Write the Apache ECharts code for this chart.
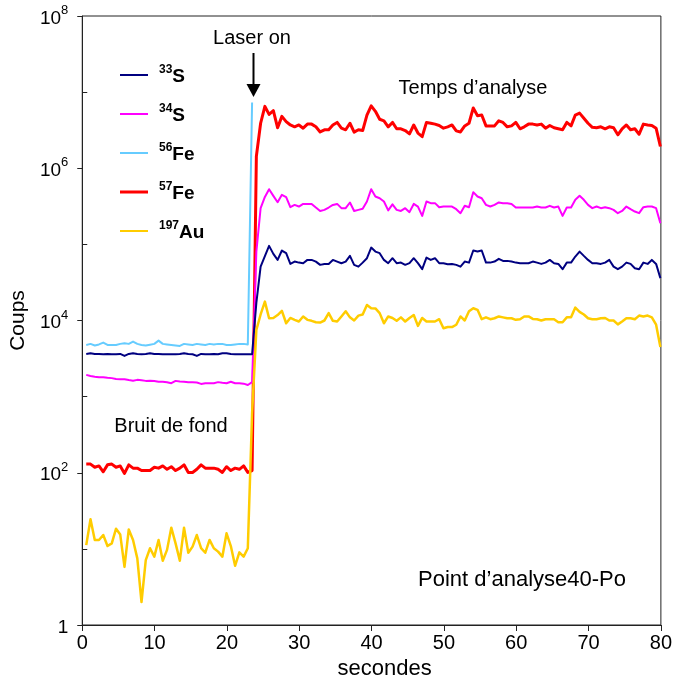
<!DOCTYPE html>
<html>
<head>
<meta charset="utf-8">
<script src="https://cdn.jsdelivr.net/npm/echarts@6/dist/echarts.min.js"></script>
<style>html,body{margin:0;padding:0;background:#fff}#c{width:675px;height:686px}</style>
</head>
<body>
<div id="c"></div>
<script>
// sample times (s)
const times = [0.55,1.14,1.73,2.31,2.90,3.49,4.08,4.67,5.25,5.84,6.43,7.02,7.61,8.19,8.78,9.37,9.96,10.55,11.13,11.72,
12.31,12.90,13.49,14.07,14.66,15.25,15.84,16.43,17.01,17.60,18.19,18.78,19.37,19.95,20.54,21.13,21.72,22.31,22.89,23.48,
24.07,24.66,25.25,25.83,26.42,27.01,27.60,28.19,28.77,29.36,29.95,30.54,31.13,31.71,32.30,32.89,33.48,34.07,34.65,35.24,
35.83,36.42,37.01,37.59,38.18,38.77,39.36,39.95,40.53,41.12,41.71,42.30,42.89,43.47,44.06,44.65,45.24,45.83,46.41,47.00,
47.59,48.18,48.77,49.35,49.94,50.53,51.12,51.71,52.29,52.88,53.47,54.06,54.65,55.23,55.82,56.41,57.00,57.59,58.17,58.76,
59.35,59.94,60.53,61.11,61.70,62.29,62.88,63.47,64.05,64.64,65.23,65.82,66.41,66.99,67.58,68.17,68.76,69.35,69.93,70.52,
71.11,71.70,72.29,72.87,73.46,74.05,74.64,75.23,75.81,76.40,76.99,77.58,78.17,78.75,79.34,79.93];

const s33 = [3640,3720,3640,3640,3600,3640,3600,3600,3640,3430,3640,3720,3640,3600,3640,3720,3640,3640,3600,3600,
3600,3600,3640,3720,3640,3600,3430,3640,3600,3600,3640,3600,3720,3720,3640,3600,3600,3600,3600,3600,
17000,51000,70000,95500,75000,62500,83000,76600,55400,59400,57600,56600,62500,62500,59400,53800,55400,55400,62500,59400,
56600,59400,70600,53800,51000,57600,65800,90800,80400,76600,62500,56600,65800,56600,57600,53800,56600,65800,56600,47200,
67100,62500,65800,56600,56600,54900,55400,53800,51000,59400,57600,83000,80400,83000,57600,57600,59400,64500,60700,60700,
59400,57600,56600,56600,56600,59400,57600,55400,57600,62500,56600,55400,47200,57600,57600,69200,80400,70600,62500,56600,
56600,55400,57600,62500,51000,47200,51000,57600,55400,48600,47200,57600,55400,62500,55400,36000];

const s34 = [1930,1870,1830,1800,1800,1770,1750,1700,1690,1690,1650,1620,1660,1640,1610,1620,1600,1570,1570,1540,
1500,1610,1580,1570,1550,1540,1530,1470,1500,1500,1500,1550,1520,1500,1570,1500,1500,1480,1420,1550,
80000,300000,420000,530000,434000,358000,447000,417000,308000,330000,314000,340000,340000,340000,305000,275000,284000,305000,330000,340000,
299000,299000,355000,275000,284000,293000,366000,531000,425000,404000,366000,280000,336000,284000,275000,299000,265000,340000,314000,237000,
366000,348000,348000,308000,314000,314000,314000,290000,257000,321000,308000,485000,425000,404000,330000,314000,330000,355000,348000,348000,
340000,305000,305000,305000,305000,305000,314000,305000,305000,321000,305000,314000,237000,305000,305000,385000,434000,385000,330000,299000,
314000,299000,308000,299000,284000,257000,275000,314000,290000,270000,257000,308000,314000,314000,299000,190000];

const s56 = [4780,4930,4700,4850,5130,4780,4780,4780,4930,5020,4930,5280,4930,4780,4680,4800,4930,5440,4930,4850,
4780,4700,4630,4930,4850,4780,4930,4850,4780,4930,4850,4930,4930,4780,4780,4850,4930,4930,4850,7300000];

const s57 = [130,130,118,123,103,127,130,118,123,98,127,115,115,107,107,107,118,115,123,111,
120,107,115,127,101,101,111,127,115,115,115,111,101,120,107,115,111,123,101,107,
1430000,3900000,6500000,5100000,5700000,3400000,4800000,4100000,3700000,3500000,3700000,3360000,3800000,3800000,3500000,3000000,3200000,3200000,3700000,4000000,
3360000,3200000,3900000,2980000,3200000,3130000,5000000,6600000,5600000,4400000,4200000,3500000,4000000,3300000,3300000,3130000,2830000,3700000,2900000,2600000,
4000000,3900000,3800000,3650000,3360000,3500000,3700000,3100000,3000000,3600000,3900000,6200000,4900000,5000000,3600000,3600000,3600000,4200000,4000000,3500000,
3600000,4000000,3300000,3500000,3800000,3800000,3700000,3800000,3360000,3650000,3400000,3300000,3200000,4000000,3600000,5000000,5300000,4550000,3900000,3450000,
3400000,3500000,3300000,3500000,3400000,2750000,3300000,3700000,3200000,3300000,2800000,3800000,3700000,3650000,3360000,1930000];

const s197 = [11.2,24.5,13.1,13.1,15.2,10.9,11.8,18.4,15.4,5.8,18,13.1,7.5,2.0,7.1,10.2,7.9,13.1,7.0,9.7,
19,11.8,7.0,19,8.9,10.7,15.2,10.2,8.9,13.1,10.2,9.2,7.9,16,10.9,6.0,9.0,7.9,10.2,600,
7500,12000,17700,10700,10800,11800,13400,9200,10800,10200,9700,11300,10200,9900,9500,9400,10000,12500,9900,9700,
11300,13200,11000,10000,11600,12000,16000,14500,14400,12500,9200,11300,10800,9900,11000,9700,10800,11800,8500,10800,
9700,9700,9700,10400,7900,8200,8200,8800,11300,10000,13200,14500,13800,10400,11000,10400,10700,11300,11000,10700,
10700,10200,10400,11300,11300,10500,10400,10000,10400,10400,10400,9500,9500,11000,11000,14800,13000,12000,10700,10400,
10400,10700,10800,10000,10000,8900,9700,10700,10700,10400,11600,11300,11600,11000,8800,4500];

const isoMass = ['33','34','56','57','197'];
const isoSym = ['S','S','Fe','Fe','Au'];
const seriesNames = ['33S','34S','56Fe','57Fe','197Au'];
const yLabelExps = [0,2,4,6,8];
const xTickLabels = [0,10,20,30,40,50,60,70,80];
const annotations = {laser:'Laser on', temps:'Temps d’analyse', bruit:'Bruit de fond', point:'Point d’analyse40-Po'};

const FONT = 'Liberation Sans, Arial, Helvetica, sans-serif';
const pairs = vals => vals.map((v,i)=>[times[i], v]);

const colors = {'33S':'#000080','34S':'#ff00ff','56Fe':'#66ccff','57Fe':'#ff0000','197Au':'#ffcc00'};
const widths = {'33S':2,'34S':2,'56Fe':2,'57Fe':3,'197Au':2.5};
const dataMap = {'33S':s33,'34S':s34,'56Fe':s56,'57Fe':s57,'197Au':s197};
const drawOrder = ['57Fe','34S','33S','197Au','56Fe'];

// legend line icon: a band of thickness t centred in a 28x14 box
const bandIcon = t => 'path://M0,0h0.01v0.01h-0.01z M0,' + (7 - t/2) + 'h28v' + t + 'h-28z M27.99,13.99h0.01v0.01h-0.01z';

const chart = echarts.init(document.getElementById('c'), null, {renderer:'canvas'});
const option = {
  backgroundColor:'#fff',
  animation:false,
  textStyle:{fontFamily:FONT},
  grid:{left:81, right:14, top:16, bottom:61, show:true, borderColor:'#222', borderWidth:1, backgroundColor:'transparent'},
  legend:{
    data:seriesNames.map(n => ({name:n, icon:bandIcon(n === '57Fe' ? 3 : 2)})),
    orient:'vertical', left:120, top:64, padding:0, itemWidth:28, itemHeight:14, itemGap:17,
    formatter: name => { const i = seriesNames.indexOf(name); return '{sup|'+isoMass[i]+'}{b|'+isoSym[i]+'}'; },
    textStyle:{fontFamily:FONT, color:'#000', rich:{
      sup:{fontSize:12, fontWeight:'bold', fontFamily:FONT, color:'#000', verticalAlign:'top', lineHeight:12, padding:[0,0,0,6]},
      b:{fontSize:19, fontWeight:'bold', fontFamily:FONT, color:'#000', verticalAlign:'bottom', lineHeight:22}
    }}
  },
  xAxis:{
    type:'value', min:0, max:80, interval:10,
    name:'secondes', nameLocation:'middle', nameGap:32,
    nameTextStyle:{fontSize:22, color:'#000', fontFamily:FONT, padding:[0,0,0,26]},
    axisLine:{lineStyle:{color:'#222', width:1}},
    axisTick:{show:true, inside:false, length:6, lineStyle:{color:'#222'}},
    axisLabel:{fontSize:20, color:'#000', margin:8, fontFamily:FONT, formatter: v => xTickLabels.includes(v) ? String(v) : ''},
    splitLine:{show:false}
  },
  yAxis:[{
    type:'log', logBase:100, min:1, max:1e8, splitNumber:4,
    name:'Coups', nameLocation:'middle', nameGap:50,
    nameTextStyle:{fontSize:21, color:'#000', fontFamily:FONT},
    axisLine:{show:true, lineStyle:{color:'#222', width:1}},
    axisTick:{show:true, inside:false, length:5, lineStyle:{color:'#222'}},
    axisLabel:{margin:14, color:'#000', fontFamily:FONT,
      formatter: v => { const e = Math.round(Math.log10(v)); if (!yLabelExps.includes(e)) return ''; return e === 0 ? '{b|1}' : '{b|10}{sup|'+e+'}'; },
      rich:{
        b:{fontSize:19, fontFamily:FONT, color:'#000', verticalAlign:'bottom', lineHeight:24},
        sup:{fontSize:13, fontFamily:FONT, color:'#000', verticalAlign:'top', lineHeight:13}
      }},
    splitLine:{show:false}
  },{
    type:'value', min:0, max:8, position:'left',
    axisLine:{show:false},
    axisTick:{show:true, inside:true, length:5, customValues:[1,3,5,7], lineStyle:{color:'#222'}},
    axisLabel:{show:false},
    splitLine:{show:false}
  }],
  series: drawOrder.map(n => ({
    name:n, type:'line', yAxisIndex:0, data:pairs(dataMap[n]), symbol:'none', showSymbol:false,
    lineStyle:{color:colors[n], width:widths[n], join:'round'}, itemStyle:{color:colors[n]},
    z: 2, silent:true
  })),
  graphic:[
    {type:'text', x:252, y:38, style:{text:annotations.laser, font:'20px '+FONT, fill:'#000', textAlign:'center', textVerticalAlign:'middle'}},
    {type:'line', shape:{x1:253.5, y1:53, x2:253.5, y2:86}, style:{stroke:'#000', lineWidth:2}},
    {type:'polygon', shape:{points:[[246.5,84],[260.5,84],[253.5,97]]}, style:{fill:'#000'}},
    {type:'text', x:473, y:88, style:{text:annotations.temps, font:'20px '+FONT, fill:'#000', textAlign:'center', textVerticalAlign:'middle'}},
    {type:'text', x:171, y:426, style:{text:annotations.bruit, font:'20px '+FONT, fill:'#000', textAlign:'center', textVerticalAlign:'middle'}},
    {type:'text', x:522, y:580, style:{text:annotations.point, font:'22px '+FONT, fill:'#000', textAlign:'center', textVerticalAlign:'middle'}}
  ]
};
chart.setOption(option);
</script>
</body>
</html>
